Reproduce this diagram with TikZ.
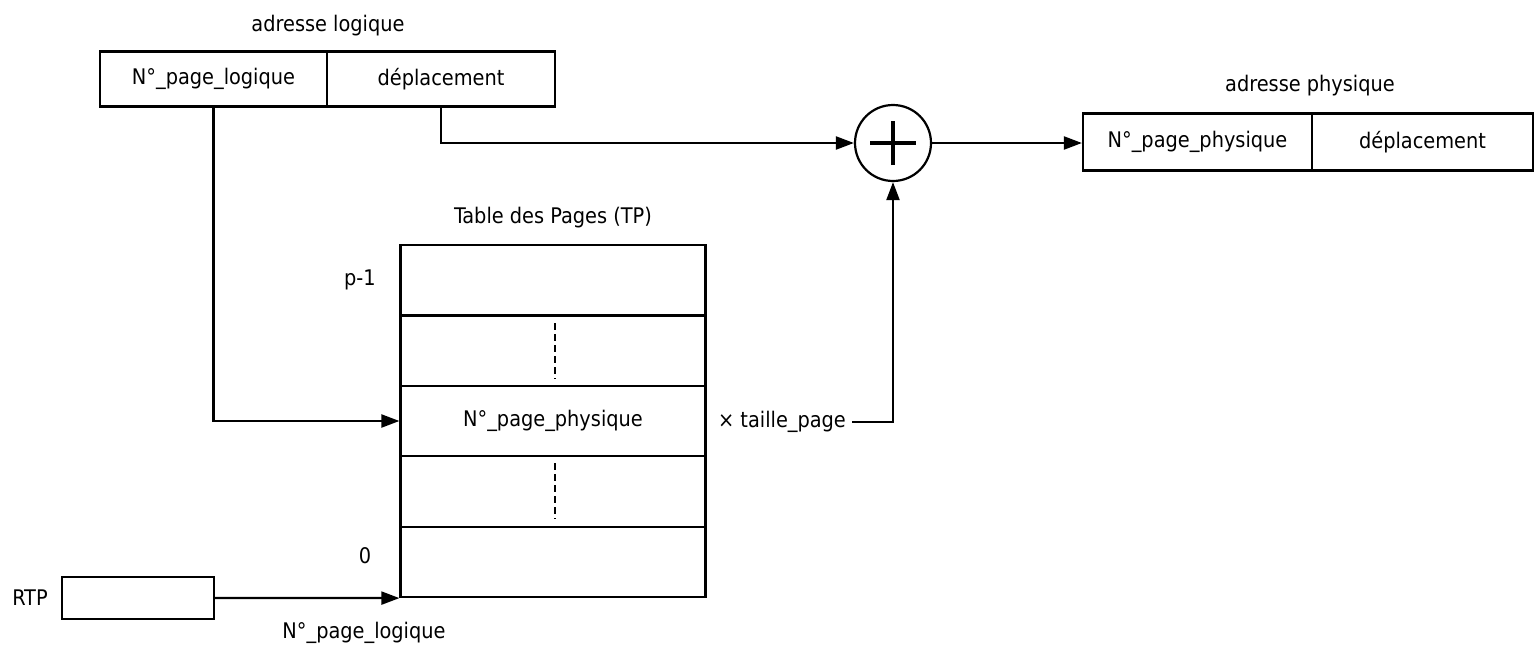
\documentclass[tikz,border=0pt]{standalone}
\usepackage{fontspec}
\setmainfont{DejaVu Sans Condensed}
\usetikzlibrary{arrows.meta}
\begin{document}
\begin{tikzpicture}[x=1pt,y=-1pt,
  every node/.style={font=\fontsize{21.5}{24}\selectfont},
  cell/.style={draw,line width=2.2pt,inner sep=0pt},
  lbl/.style={inner sep=2pt},
  arr/.style={line width=2.2pt,-{Triangle[length=18pt,width=13pt]}},
  dots/.style={line width=1.6pt,dash pattern=on 7pt off 4pt}]
\useasboundingbox[fill=white] (0,0) rectangle (1537,648);
% logical address
\node[lbl] (lal) at (328,26) {adresse logique};
\node[cell,minimum width=227pt,minimum height=55pt] (la1) at (213.5,79) {N°\_page\_logique};
\node[cell,minimum width=228pt,minimum height=55pt] (la2) at (441,79) {déplacement};
% adder
\node[circle,draw,line width=2.2pt,minimum size=76pt,inner sep=0pt] (plus) at (893,143) {};
\draw[line width=3.4pt] ([xshift=-23pt]plus.center) -- ([xshift=23pt]plus.center);
\draw[line width=3.4pt] ([yshift=-22pt]plus.center) -- ([yshift=22pt]plus.center);
% physical address
\node[lbl] (pal) at (1310,86) {adresse physique};
\node[cell,minimum width=229pt,minimum height=57pt] (pa1) at (1197.5,142) {N°\_page\_physique};
\node[cell,minimum width=221pt,minimum height=57pt] (pa2) at (1422.5,142) {déplacement};
% page table
\node[lbl] (tpl) at (553,218) {Table des Pages (TP)};
\node[cell,minimum width=305pt,minimum height=70.4pt] (t1) at (553,280.2) {};
\node[cell,minimum width=305pt,minimum height=70.4pt] (t2) at (553,350.6) {};
\node[cell,minimum width=305pt,minimum height=70.4pt] (t3) at (553,421) {N°\_page\_physique};
\node[cell,minimum width=305pt,minimum height=70.4pt] (t4) at (553,491.4) {};
\node[cell,minimum width=305pt,minimum height=70.4pt] (t5) at (553,561.8) {};
\coordinate (d1a) at (555,323); \coordinate (d1b) at (555,379);
\coordinate (d2a) at (555,463); \coordinate (d2b) at (555,519);
\draw[dots] (d1a) -- (d1b);
\draw[dots] (d2a) -- (d2b);
\node[lbl] (pm1) at (360,280) {p-1};
\node[lbl] (zero) at (365,556) {0};
% RTP
\node[lbl] (rtpl) at (30,598) {RTP};
\node[cell,minimum width=152pt,minimum height=42pt] (rtp) at (138,598) {};
\node[lbl] (npl) at (364,633) {N°\_page\_logique};
% multiply label
\node[lbl,inner xsep=6pt] (tp) at (782,422) {× taille\_page};
% connectors
\draw[arr] (la1.south) |- (t3.west);
\draw[arr] (la2.south) |- (plus.west);
\draw[arr] (plus.east) -- (plus.east -| pa1.west);
\draw[arr] (tp.east) -| (plus.south);
\draw[arr] (rtp.east) -- (t5.south west);
\end{tikzpicture}
\end{document}
